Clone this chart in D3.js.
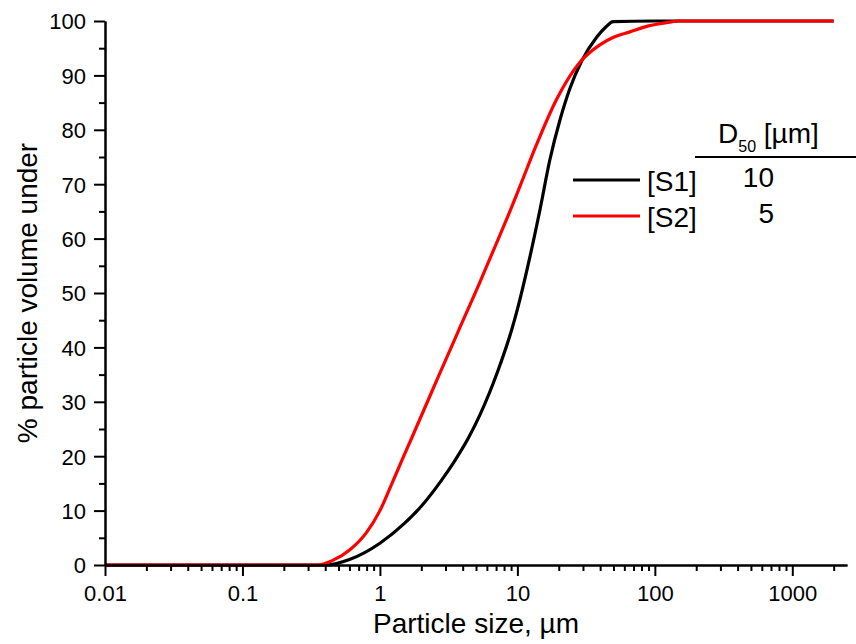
<!DOCTYPE html>
<html>
<head>
<meta charset="utf-8">
<script src="https://cdn.jsdelivr.net/npm/d3@7"></script>
<style>
  html, body { margin: 0; padding: 0; background: #ffffff; }
  svg { display: block; font-family: Arial, "Liberation Sans", sans-serif; }
</style>
</head>
<body>
<svg id="chart" width="856" height="644"></svg>
<script>
// ---- data ----
const seriesNames = ["[S1]", "[S2]"];
const seriesColors = ["#000000", "#ff0000"];
const d50Values = ["10", "5"];

const s1Size  = [0.01, 0.1, 0.3, 0.41, 0.6, 1, 1.5, 2, 2.81, 3.51, 4.39, 5.34, 7.24, 9.08, 10, 12.3, 14.6, 17.2, 20.4, 24.1, 29.3, 37.7, 44, 49.8, 100, 1000, 2000];
const s1Value = [0, 0, 0, 0, 1.0, 4.0, 7.6, 10.8, 15.6, 19.2, 23.3, 27.6, 35.8, 43.2, 47.0, 56.5, 65.3, 74.4, 81.8, 87.6, 92.6, 97.0, 98.9, 99.9, 100, 100, 100];

const s2Size  = [0.01, 0.1, 0.3, 0.345, 0.45, 0.605, 0.8, 1, 1.2, 1.46, 1.70, 2.70, 3.72, 5.34, 6.31, 8.82, 10.4, 13.8, 19.3, 28.5, 39.8, 50, 65.8, 90, 121.6, 150, 1000, 2000];
const s2Value = [0, 0, 0, 0, 0.8, 2.8, 6.0, 10.0, 14.5, 19.5, 23.3, 35.0, 43.0, 52.0, 56.3, 65.0, 69.5, 77.3, 85.6, 92.4, 95.6, 97.0, 98.0, 99.1, 99.7, 100, 100, 100];

const xMajorTicks = [0.01, 0.1, 1, 10, 100, 1000];
const xTickLabels = ["0.01", "0.1", "1", "10", "100", "1000"];
const yMajorTicks = [0, 10, 20, 30, 40, 50, 60, 70, 80, 90, 100];
const yMinorTicks = [5, 15, 25, 35, 45, 55, 65, 75, 85, 95];

(function () {
// ---- layout ----
const svg = d3.select("#chart");
const mLeft = 105, mRight = 847, mTop = 21, mBottom = 565;

const x = d3.scaleLog().domain([0.01, 2500]).range([mLeft, mRight]);
const y = d3.scaleLinear().domain([0, 100]).range([mBottom, mTop]);

// minor x ticks: 2..9 of each decade up to 2000
const xMinorTicks = [];
[0.01, 0.1, 1, 10, 100, 1000].forEach(dec => {
  for (let k = 2; k <= 9; k++) {
    const v = +(dec * k).toPrecision(6);
    if (v <= 2000) xMinorTicks.push(v);
  }
});

// ---- curves ----
const line = d3.line()
  .x(d => x(d[0]))
  .y(d => y(d[1]))
  .curve(d3.curveMonotoneX);

const series = [
  d3.zip(s1Size, s1Value),
  d3.zip(s2Size, s2Value)
];

series.forEach((s, i) => {
  svg.append("path")
    .datum(s)
    .attr("fill", "none")
    .attr("stroke", seriesColors[i])
    .attr("stroke-width", 3.2)
    .attr("stroke-linejoin", "round")
    .attr("d", line);
});

// ---- axes ----
const xAxisMinor = d3.axisBottom(x).tickValues(xMinorTicks).tickSize(6).tickSizeOuter(0).tickFormat("");
const xAxisMajor = d3.axisBottom(x).tickValues(xMajorTicks).tickSize(11).tickSizeOuter(0)
  .tickFormat((d, i) => xTickLabels[i]);

const gxMinor = svg.append("g").attr("transform", `translate(0,${mBottom})`).call(xAxisMinor);
const gx = svg.append("g").attr("transform", `translate(0,${mBottom})`).call(xAxisMajor);

const yAxisMinor = d3.axisLeft(y).tickValues(yMinorTicks).tickSize(6).tickSizeOuter(0).tickFormat("");
const yAxisMajor = d3.axisLeft(y).tickValues(yMajorTicks).tickSize(11).tickSizeOuter(0).tickFormat(d3.format("d"));

const gyMinor = svg.append("g").attr("transform", `translate(${mLeft},0)`).call(yAxisMinor);
const gy = svg.append("g").attr("transform", `translate(${mLeft},0)`).call(yAxisMajor);

[gx, gxMinor, gy, gyMinor].forEach(g => {
  g.selectAll(".domain").attr("stroke", "#000").attr("stroke-width", 2);
  g.selectAll(".tick line").attr("stroke", "#000").attr("stroke-width", 2);
  g.selectAll("text").attr("fill", "#000").style("font-size", "22px")
    .style("font-family", "Arial, 'Liberation Sans', sans-serif");
});
gx.selectAll(".tick text").attr("y", 20).attr("dy", "0.71em");
gy.selectAll(".tick text").attr("x", -19).attr("dy", "0.36em");

// axis titles
svg.append("text")
  .attr("x", (mLeft + mRight) / 2)
  .attr("y", 633)
  .attr("text-anchor", "middle")
  .style("font-size", "28px")
  .attr("fill", "#000")
  .text("Particle size, µm");

svg.append("text")
  .attr("transform", `translate(37,${(mTop + mBottom) / 2}) rotate(-90)`)
  .attr("text-anchor", "middle")
  .style("font-size", "28px")
  .attr("fill", "#000")
  .text("% particle volume under");

// ---- legend ----
const legendY = [180, 216];
const legend = svg.append("g");
seriesNames.forEach((name, i) => {
  legend.append("line")
    .attr("x1", 573).attr("x2", 640)
    .attr("y1", legendY[i]).attr("y2", legendY[i])
    .attr("stroke", seriesColors[i]).attr("stroke-width", 3.2);
  legend.append("text")
    .attr("x", 647).attr("y", legendY[i] + 11)
    .style("font-size", "28px").attr("fill", "#000")
    .text(name);
  legend.append("text")
    .attr("x", 774).attr("y", legendY[i] + 7)
    .attr("text-anchor", "end")
    .style("font-size", "28px").attr("fill", "#000")
    .text(d50Values[i]);
});

// D50 header
const hdr = legend.append("text").attr("x", 718).attr("y", 143).attr("fill", "#000").style("font-size", "28px");
hdr.append("tspan").text("D");
hdr.append("tspan").attr("dy", 9).style("font-size", "16px").text("50");
hdr.append("tspan").attr("dy", -9).text(" [µm]");

legend.append("line")
  .attr("x1", 695).attr("x2", 856)
  .attr("y1", 157).attr("y2", 157)
  .attr("stroke", "#000").attr("stroke-width", 2);
})();
</script>
</body>
</html>
